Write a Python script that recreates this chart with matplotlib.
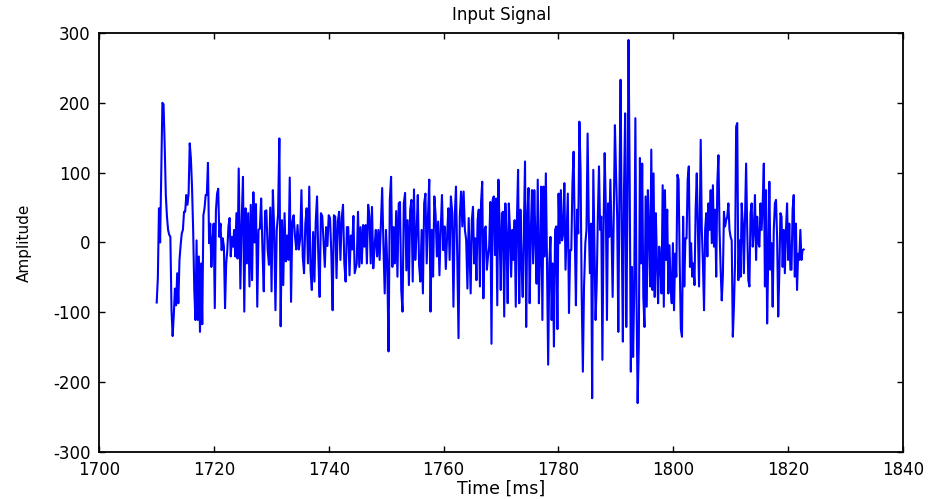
import numpy as np
import matplotlib
matplotlib.use('Agg')
import matplotlib.pyplot as plt

plt.rcParams['font.family'] = 'DejaVu Sans'
plt.rcParams['axes.unicode_minus'] = False

# signal, in six pieces (start ms, end ms, samples)
seg1_t = (1710.04, 1724.32)
seg1 = [-86, -51, 49, 0, 99, 200, 198, 140, 68, 37, 18, 11, 8, -97, -134, -104, -66, -90, -44, -87,
        -25, -4, 13, 18, 44, 44, 68, 54, 70, 142, 121, 80, 18, -68, -111, 3, -111, -20, -128, -30,
        -117, 39, 49, 68, 68, 114, -1, 27, -35, 3, 27, -94, 46, 70, 77, 8, 27, -11, 6, -6,
        -94, -30, -11, 23, 35, -20, 8, -6, 18, -20, 42, -23, 106]

seg2_t = (1724.61, 1744.52)
seg2 = [-66, 30, 94, -99, 49, -30, 42, -63, 54, -54, 72, 0, 55, -92, 18, 20, 63, -10, -70, 45,
        46, -10, -32, 50, -70, 75, 20, -97, 18, 40, 149, -120, 32, -61, 42, -27, 10, -25, 93, -85,
        30, 39, 10, -10, 25, -10, 5, 75, -20, -44, 27, 49, -30, 80, -40, -68, 15, -56, 30, 66,
        -20, -78, 42, 38, 0, -35, 22, -5, 39, 35, -15, -97, 39, 37, -51, 30, 44, -25, 35, 54,
        -30, -56, 22, 22, -47, 10, -10, 38, -44]

seg3_t = (1744.87, 1764.37)
seg3 = [-30, 44, -35, 22, -30, 25, -6, 25, -30, 54, 37, -30, 51, -37, -6, 18, -20, 18, -25, 27,
        78, -6, -73, 18, -30, -156, 61, 94, -35, 22, -30, 45, -49, 56, 58, -68, -99, 56, 71, -40,
        32, -61, 46, 61, -56, 76, -25, 13, 68, -32, -56, 18, -73, 56, 70, -30, 37, 90, -99, 18,
        -49, 66, 39, -20, 30, -47, 18, 68, -11, 23, -38, 8, 49, -25, 66, 44, -92, 37, 80, -20,
        -137, 37, 73, 23, 73, 18, 4, -66, 35]

seg4_t = (1764.71, 1784.45)
seg4 = [-73, 32, 51, -30, 6, -54, 32, 47, -63, 58, 87, -80, 18, 23, -39, -20, -6, 58, -145, 61,
        66, -18, 63, -90, 90, 18, -68, 42, 44, -106, 56, 8, -87, 56, 18, -49, 18, -25, 32, -92,
        32, 104, -87, 47, -30, -78, 18, 116, -121, 37, 78, -87, 15, 75, -30, 75, 3, -59, 90, -87,
        -16, 80, -111, 80, -20, 99, -30, -175, -30, 8, -111, -30, -149, 18, 23, -124, 70, -1, 75, 3,
        13, 85, -39, 18, 70, -101, -11, -11, 85, 130, 13, -90, 47, 13, 173, 104, -78, -185, -63]

seg5_t = (1784.68, 1804.48)
seg5 = [-1, 18, 156, 32, -44, 27, -223, 104, -6, -111, -59, 37, 109, 18, 37, -168, 18, 128, 51, -111,
        56, 8, 90, 18, -78, 37, 168, 99, 37, -128, 75, 233, 18, -142, 75, 185, -121, 47, 290, 90,
        -185, -35, -164, -68, 178, -78, -230, -149, 121, -30, 113, -78, -121, 66, -92, 75, 18, -63, 133, -68,
        99, -78, 42, -30, -87, -6, -30, -73, 82, -92, 75, -25, 47, -73, -4, -63, -87, -1, -97, -16,
        -49, 97, 90, -30, -124, -135, 37, -63, 6, 6, 90, 109, -35, -1, -49, -30, -61, 47, 99, 18, -63]

seg6_t = (1804.77, 1822.70)
seg6 = [147, 18, -30, -97, 18, 42, -20, 56, 18, 75, -1, 82, -6, 47, -49, 85, 125, 18, -39, -83,
        -49, 44, 23, 32, 37, 56, 18, 8, 3, -135, -92, -30, 166, 171, -54, 3, -49, 56, 27, -44,
        37, 113, 18, -54, -63, 42, 56, -6, 18, 68, -25, 37, -1, -6, 56, 18, 56, 113, -63, 75,
        -116, -20, 87, -39, -1, -92, 18, 56, 61, 8, -106, -44, 42, 37, -35, 18, -44, 18, 56, -25,
        27, -39, -39, 47, 68, -49, 27, -68, -16, -25, 18, -25, -11, -10]

segments = [(seg1_t, seg1), (seg2_t, seg2), (seg3_t, seg3),
            (seg4_t, seg4), (seg5_t, seg5), (seg6_t, seg6)]

t = np.concatenate([np.linspace(a, b, len(v)) for (a, b), v in segments])
amp = np.concatenate([np.array(v, dtype=float) for _, v in segments])

fig = plt.figure(figsize=(9.3, 4.99), dpi=100)
ax = fig.add_axes([0.1065, 0.0942, 0.8645, 0.8397])

ax.plot(t, amp, color='#0000ff', linewidth=1.5)

ax.set_xlim(1700, 1840)
ax.set_ylim(-300, 300)
ax.set_xticks(np.arange(1700, 1841, 20))
ax.set_yticks(np.arange(-300, 301, 100))

for sp in ax.spines.values():
    sp.set_linewidth(1.3)
ax.tick_params(direction='in', top=True, right=True, length=4, width=1,
               labelsize=12)
ax.tick_params(axis='x', pad=6.5)
ax.tick_params(axis='y', pad=6)

ax.set_title('Input Signal', fontsize=12, pad=9)
ax.set_xlabel('Time [ms]', fontsize=12.5)
ax.xaxis.set_label_coords(0.5, -0.066)
ax.set_ylabel('Amplitude', fontsize=11)
ax.yaxis.set_label_coords(-0.083, 0.5)

plt.savefig('out.png', dpi=100)
